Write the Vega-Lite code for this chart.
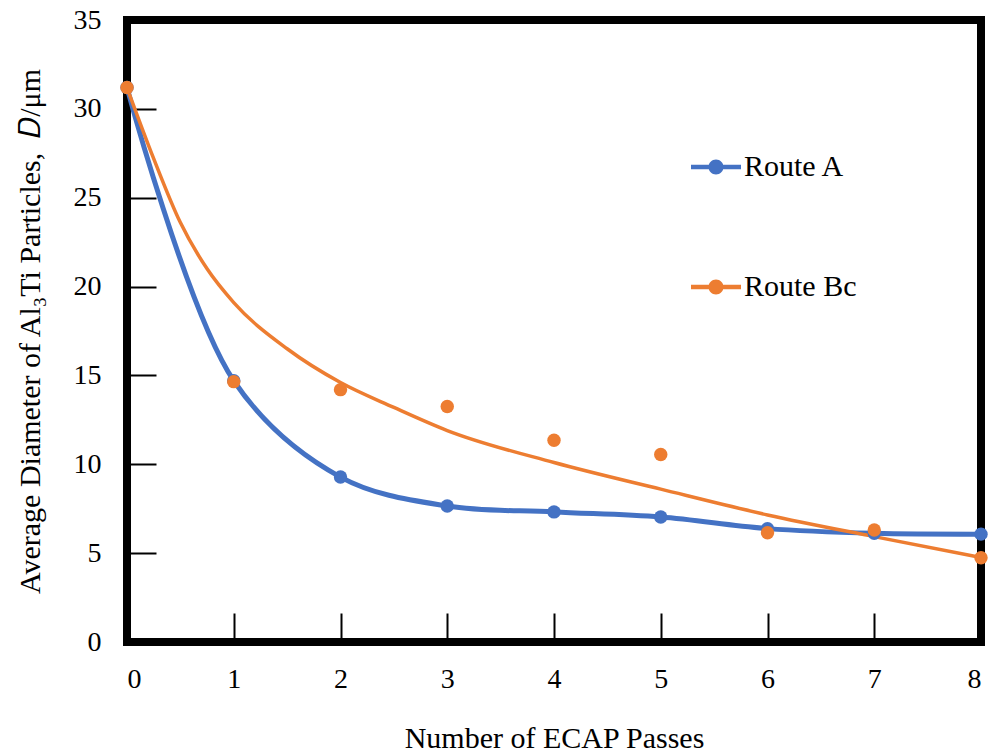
{
  "$schema": "https://vega.github.io/schema/vega-lite/v6.json",
  "autosize": {"type": "none"},
  "width": 854,
  "height": 622,
  "padding": {"left": 127, "top": 20, "right": 10, "bottom": 112},
  "config": {
    "font": "Liberation Serif",
    "view": {"stroke": "black", "strokeWidth": 8},
    "axis": {
      "domain": false,
      "grid": false,
      "ticks": true,
      "tickColor": "black",
      "tickWidth": 2,
      "tickSize": -29,
      "labelFont": "Liberation Serif",
      "labelFontSize": 28,
      "labelColor": "black",
      "titleFont": "Liberation Serif",
      "titleFontSize": 30,
      "titleFontWeight": "normal",
      "titleColor": "black"
    }
  },
  "datasets": {
    "points": [
      {"route": "Route A", "passes": 0, "D": 31.2},
      {"route": "Route A", "passes": 1, "D": 14.7},
      {"route": "Route A", "passes": 2, "D": 9.28},
      {"route": "Route A", "passes": 3, "D": 7.65},
      {"route": "Route A", "passes": 4, "D": 7.32},
      {"route": "Route A", "passes": 5, "D": 7.03},
      {"route": "Route A", "passes": 6, "D": 6.38},
      {"route": "Route A", "passes": 7, "D": 6.12},
      {"route": "Route A", "passes": 8, "D": 6.07},
      {"route": "Route Bc", "passes": 0, "D": 31.2},
      {"route": "Route Bc", "passes": 1, "D": 14.65},
      {"route": "Route Bc", "passes": 2, "D": 14.2},
      {"route": "Route Bc", "passes": 3, "D": 13.25},
      {"route": "Route Bc", "passes": 4, "D": 11.35},
      {"route": "Route Bc", "passes": 5, "D": 10.55},
      {"route": "Route Bc", "passes": 6, "D": 6.15},
      {"route": "Route Bc", "passes": 7, "D": 6.3},
      {"route": "Route Bc", "passes": 8, "D": 4.74}
    ],
    "trend": [
      {"passes": 0, "D": 31.2},
      {"passes": 0.25, "D": 27.2},
      {"passes": 0.5, "D": 23.6},
      {"passes": 0.75, "D": 21.0},
      {"passes": 1, "D": 19.1},
      {"passes": 1.5, "D": 16.5},
      {"passes": 2, "D": 14.6},
      {"passes": 2.5, "D": 13.2},
      {"passes": 3, "D": 11.9},
      {"passes": 4, "D": 10.1},
      {"passes": 5, "D": 8.6},
      {"passes": 6, "D": 7.15},
      {"passes": 7, "D": 5.93},
      {"passes": 8, "D": 4.76}
    ]
  },
  "encoding": {
    "x": {
      "field": "passes",
      "type": "quantitative",
      "scale": {"domain": [0, 8], "nice": false},
      "axis": {"values": [0, 1, 2, 3, 4, 5, 6, 7, 8], "labelPadding": 52, "title": "Number of ECAP Passes", "titleY": 96, "titleBaseline": "middle"}
    },
    "y": {
      "field": "D",
      "type": "quantitative",
      "scale": {"domain": [0, 35], "nice": false},
      "axis": {"values": [0, 5, 10, 15, 20, 25, 30, 35], "labelPadding": 55, "title": "Average Diameter of Al₃Ti Particles,\u00a0 𝐷/μm", "titleX": -97, "titleBaseline": "middle"}
    }
  },
  "layer": [
    {
      "data": {"name": "points"},
      "transform": [{"filter": "datum.route === 'Route A'"}],
      "mark": {"type": "line", "interpolate": "catmull-rom", "color": "#4472C4", "strokeWidth": 5},
      "encoding": {}
    },
    {
      "data": {"name": "trend"},
      "mark": {"type": "line", "interpolate": "monotone", "color": "#ED7D31", "strokeWidth": 3.5},
      "encoding": {}
    },
    {
      "data": {"name": "points"},
      "mark": {"type": "point", "filled": true, "opacity": 1, "size": 180},
      "encoding": {
        "color": {
          "field": "route",
          "type": "nominal",
          "scale": {"domain": ["Route A", "Route Bc"], "range": ["#4472C4", "#ED7D31"]},
          "legend": {
            "title": null,
            "orient": "none",
            "legendX": 563,
            "legendY": 121,
            "symbolType": "M-1,-0.09L1,-0.09L1,0.09L-1,0.09ZM0.3,0A0.3,0.3 0 1,1 -0.3,0A0.3,0.3 0 1,1 0.3,0Z",
            "symbolSize": 2500,
            "labelFont": "Liberation Serif",
            "labelFontSize": 30,
            "labelColor": "black",
            "labelOffset": 2,
            "rowPadding": 79,
            "encode": {
              "symbols": {
                "update": {
                  "shape": {"value": "M-1,-0.09L1,-0.09L1,0.09L-1,0.09ZM0.3,0A0.3,0.3 0 1,1 -0.3,0A0.3,0.3 0 1,1 0.3,0Z"},
                  "size": {"value": 2500},
                  "fill": {"scale": "color", "field": "value"},
                  "opacity": {"value": 1}
                }
              }
            }
          }
        }
      }
    }
  ]
}
